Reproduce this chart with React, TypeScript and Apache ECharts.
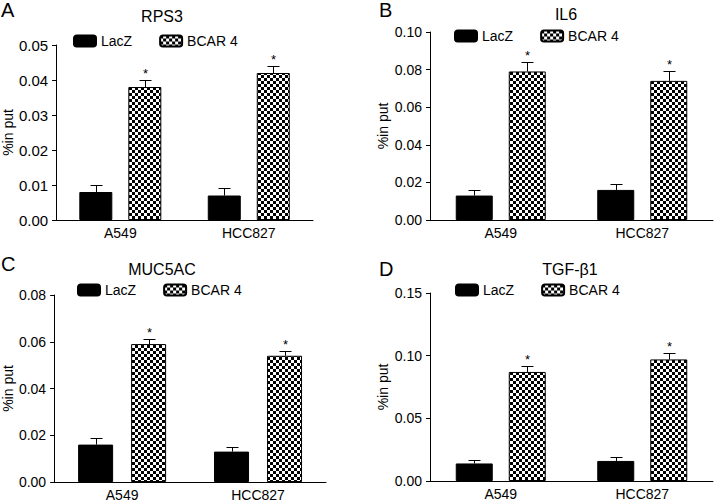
import React, { useEffect, useRef } from "react";
import * as echarts from "echarts";

const categories = ["A549", "HCC827"];
const panelLetters = ["A", "B", "C", "D"];
const panelTitles = ["RPS3", "IL6", "MUC5AC", "TGF-β1"];
const seriesNames = ["LacZ", "BCAR 4"];
const yAxisName = "%in put";

const rps3LacZ = [0.008, 0.007];
const rps3LacZErr = [0.002, 0.0022];
const rps3BCAR4 = [0.038, 0.042];
const rps3BCAR4Err = [0.002, 0.002];

const il6LacZ = [0.013, 0.016];
const il6LacZErr = [0.003, 0.003];
const il6BCAR4 = [0.079, 0.074];
const il6BCAR4Err = [0.005, 0.005];

const muc5acLacZ = [0.016, 0.013];
const muc5acLacZErr = [0.003, 0.002];
const muc5acBCAR4 = [0.059, 0.054];
const muc5acBCAR4Err = [0.002, 0.002];

const tgfLacZ = [0.014, 0.016];
const tgfLacZErr = [0.003, 0.003];
const tgfBCAR4 = [0.087, 0.097];
const tgfBCAR4Err = [0.005, 0.005];

const yMax = [0.05, 0.1, 0.08, 0.15];
const yInterval = [0.01, 0.02, 0.02, 0.05];
const significant = [
  [false, true],
  [false, true],
  [false, true],
  [false, true],
];

const panelData = [
  { lacZ: rps3LacZ, lacZErr: rps3LacZErr, bcar: rps3BCAR4, bcarErr: rps3BCAR4Err },
  { lacZ: il6LacZ, lacZErr: il6LacZErr, bcar: il6BCAR4, bcarErr: il6BCAR4Err },
  { lacZ: muc5acLacZ, lacZErr: muc5acLacZErr, bcar: muc5acBCAR4, bcarErr: muc5acBCAR4Err },
  { lacZ: tgfLacZ, lacZErr: tgfLacZErr, bcar: tgfBCAR4, bcarErr: tgfBCAR4Err },
];

const layouts = [
  { left: 52, top: 45, width: 261, height: 175, bw: 33, gap: 16, legendLeft: 73, legendTop: 34, titleX: 162, titleY: 8, letterX: 1, letterY: 0, tickFont: 15 },
  { left: 430, top: 32, width: 283, height: 188, bw: 37, gap: 16, legendLeft: 454, legendTop: 29, titleX: 566, titleY: 6, letterX: 379, letterY: 0, tickFont: 14 },
  { left: 54, top: 295, width: 272, height: 187, bw: 35, gap: 18, legendLeft: 77, legendTop: 283, titleX: 162, titleY: 261, letterX: 1, letterY: 254, tickFont: 14 },
  { left: 430, top: 293, width: 283, height: 188, bw: 37, gap: 16, legendLeft: 455, legendTop: 283, titleX: 570, titleY: 261, letterX: 379, letterY: 259, tickFont: 14 },
];

const FONT = "Arial, 'Liberation Sans', Helvetica, sans-serif";

function makeChecker(): string {
  const c = document.createElement("canvas");
  c.width = 6;
  c.height = 6;
  const ctx = c.getContext("2d")!;
  ctx.fillStyle = "#ffffff";
  ctx.fillRect(0, 0, 6, 6);
  ctx.fillStyle = "#000000";
  ctx.fillRect(0, 0, 3, 3);
  ctx.fillRect(3, 3, 3, 3);
  return c.toDataURL();
}

export default function App() {
  const ref = useRef<HTMLDivElement>(null);
  useEffect(() => {
    if (!ref.current) return;
    const chart = echarts.init(ref.current, undefined, { renderer: "svg" });
    const checker = { image: makeChecker(), repeat: "repeat", imageWidth: 6, imageHeight: 6 } as any;

    const grids: any[] = [];
    const xAxes: any[] = [];
    const yAxes: any[] = [];
    const titles: any[] = [];
    const legends: any[] = [];
    const series: any[] = [];

    layouts.forEach((L, p) => {
      const d = panelData[p];
      grids.push({ left: L.left, top: L.top, width: L.width, height: L.height, containLabel: false });
      xAxes.push({
        type: "category",
        gridIndex: p,
        data: categories,
        axisLine: { lineStyle: { color: "#000", width: 1 } },
        axisTick: { alignWithLabel: true, length: 4, lineStyle: { color: "#000" } },
        axisLabel: { color: "#000", fontSize: 14, fontFamily: FONT, margin: 6 },
      });
      yAxes.push({
        type: "value",
        gridIndex: p,
        min: 0,
        max: yMax[p],
        interval: yInterval[p],
        name: yAxisName,
        nameLocation: "middle",
        nameGap: p % 2 === 0 ? 37 : 40,
        nameTextStyle: { color: "#000", fontSize: 14, fontFamily: FONT },
        axisLine: { show: true, lineStyle: { color: "#000", width: 1 } },
        axisTick: { show: true, length: 4, lineStyle: { color: "#000" } },
        axisLabel: { color: "#000", fontSize: L.tickFont, fontFamily: FONT, margin: 8, formatter: (v: number) => v.toFixed(2) },
        splitLine: { show: false },
      });
      titles.push({
        text: panelTitles[p],
        left: L.titleX,
        top: L.titleY,
        textAlign: "center",
        padding: 0,
        textStyle: { color: "#000", fontSize: 16, fontWeight: "normal", fontFamily: FONT },
      });
      titles.push({
        text: panelLetters[p],
        left: L.letterX,
        top: L.letterY,
        padding: 0,
        textStyle: { color: "#000", fontSize: 20, fontWeight: "normal", fontFamily: FONT },
      });
      legends.push({
        left: L.legendLeft,
        top: L.legendTop,
        padding: 0,
        itemWidth: 22,
        itemHeight: 11,
        itemGap: 27,
        selectedMode: false,
        data: seriesNames,
        textStyle: { color: "#000", fontSize: 14, fontFamily: FONT },
      });
      const barGap = `${(L.gap / L.bw) * 100}%`;
      series.push({
        type: "bar",
        name: seriesNames[0],
        xAxisIndex: p,
        yAxisIndex: p,
        data: d.lacZ,
        barWidth: L.bw,
        barGap,
        itemStyle: { color: "#000", borderColor: "#000", borderWidth: 1 },
      });
      series.push({
        type: "bar",
        name: seriesNames[1],
        xAxisIndex: p,
        yAxisIndex: p,
        data: d.bcar,
        barWidth: L.bw,
        barGap,
        itemStyle: { color: checker, borderColor: "#000", borderWidth: 1 },
      });
      const errData: number[][] = [];
      categories.forEach((_, i) => {
        errData.push([i, d.lacZ[i], d.lacZ[i] + d.lacZErr[i], -1, significant[p][0] ? 1 : 0]);
        errData.push([i, d.bcar[i], d.bcar[i] + d.bcarErr[i], 1, significant[p][1] ? 1 : 0]);
      });
      const offset = (L.bw + L.gap) / 2;
      series.push({
        type: "custom",
        name: "err" + p,
        xAxisIndex: p,
        yAxisIndex: p,
        z: 5,
        data: errData,
        encode: { x: 0, y: [1, 2] },
        renderItem: (params: any, api: any) => {
          const ci = api.value(0);
          const base = api.coord([ci, api.value(1)]);
          const tp = api.coord([ci, api.value(2)]);
          const x = Math.round(base[0] + api.value(3) * offset) + 0.5;
          const yTop = Math.round(tp[1]) + 0.5;
          const children: any[] = [
            { type: "line", shape: { x1: x, y1: base[1], x2: x, y2: yTop }, style: { stroke: "#000", lineWidth: 1 } },
            { type: "line", shape: { x1: x - 6, y1: yTop, x2: x + 6, y2: yTop }, style: { stroke: "#000", lineWidth: 1 } },
          ];
          if (api.value(4) === 1) {
            children.push({
              type: "text",
              x: x,
              y: yTop - 1,
              style: { text: "*", fill: "#000", fontSize: 13, fontFamily: FONT, align: "center", verticalAlign: "bottom" },
            });
          }
          return { type: "group", children };
        },
      });
    });

    chart.setOption({
      animation: false,
      backgroundColor: "#fff",
      title: titles,
      legend: legends,
      grid: grids,
      xAxis: xAxes,
      yAxis: yAxes,
      series,
    });
    return () => chart.dispose();
  }, []);
  return <div ref={ref} style={{ position: "fixed", left: 0, top: 0, width: 714, height: 503, background: "#fff" }} />;
}
